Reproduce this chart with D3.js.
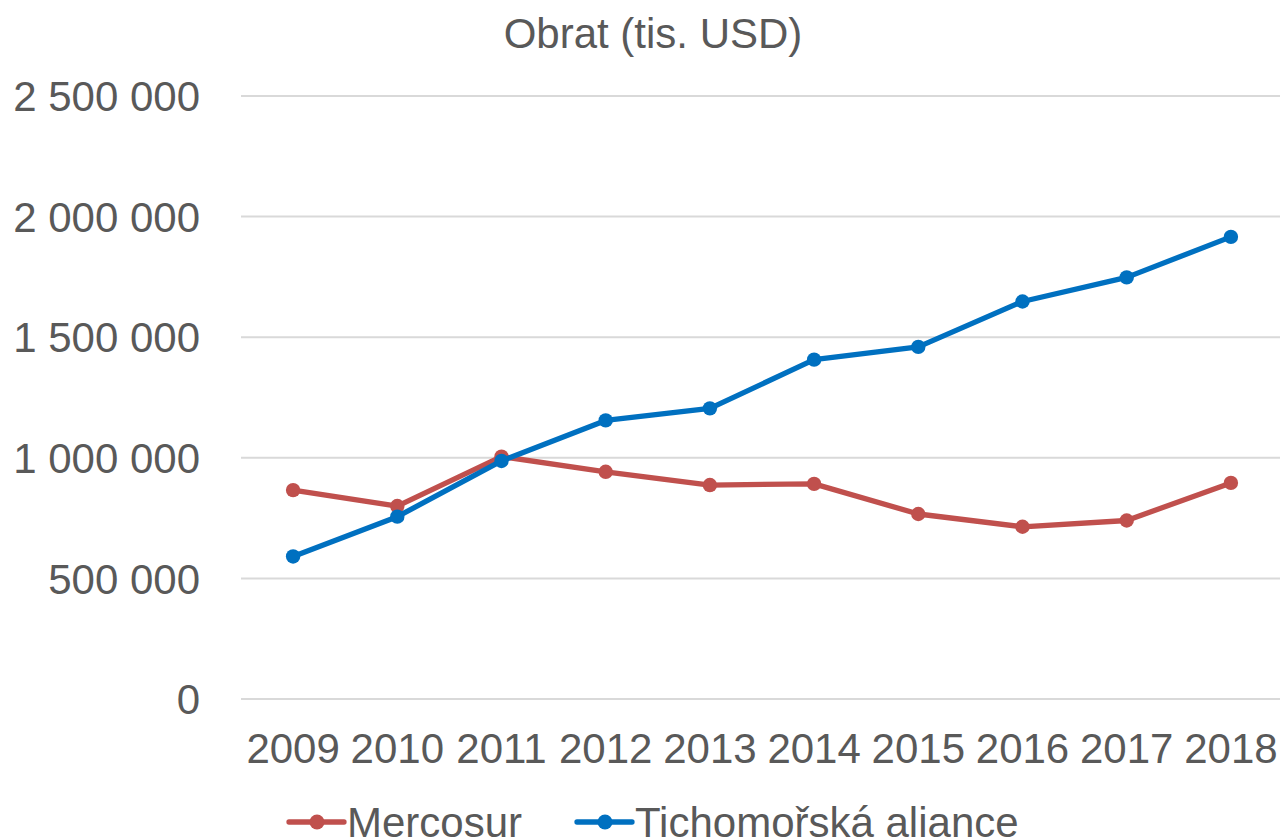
<!DOCTYPE html>
<meta charset="utf-8">
<script src="https://d3js.org/d3.v7.min.js"></script>
<style>
body { margin: 0; background: #fff; }
text { font-family: "Liberation Sans", Arial, sans-serif; fill: #595959; }
</style>
<body>
<script>

// data
var years = ["2009", "2010", "2011", "2012", "2013", "2014", "2015", "2016", "2017", "2018"];
var mercosur = [866000, 800000, 1005000, 942000, 887000, 892000, 767000, 714000, 740000, 896000];
var pacific = [591000, 756000, 987000, 1155000, 1205000, 1407000, 1460000, 1648000, 1748000, 1916000];
var yTicks = [0, 500000, 1000000, 1500000, 2000000, 2500000];
var seriesNames = ["Mercosur", "Tichomořská aliance"];
var seriesColors = ["#C0504D", "#0070C0"];

var W = 1280, H = 838;
var margin = {top: 96, right: -3, bottom: 139, left: 241},
    width = W - margin.left - margin.right,
    height = H - margin.top - margin.bottom;

var svg = d3.select("body").append("svg")
    .attr("width", W)
    .attr("height", H);

var g = svg.append("g")
    .attr("transform", "translate(" + margin.left + "," + margin.top + ")");

var x = d3.scalePoint()
    .domain(years)
    .range([0, width])
    .padding(0.5);

var y = d3.scaleLinear()
    .domain([0, 2500000])
    .range([height, 0]);

var fmt = function(v) { return d3.format(",")(v).replace(/,/g, " "); };

// gridlines
g.selectAll(".grid")
  .data(yTicks)
  .enter().append("line")
    .attr("x1", 0)
    .attr("x2", width)
    .attr("y1", function(d) { return y(d); })
    .attr("y2", function(d) { return y(d); })
    .attr("stroke", "#D9D9D9")
    .attr("stroke-width", 2);

// y labels
g.selectAll(".ylab")
  .data(yTicks)
  .enter().append("text")
    .attr("x", -41)
    .attr("y", function(d) { return y(d); })
    .attr("dy", "0.36em")
    .attr("text-anchor", "end")
    .style("font-size", "42px")
    .text(function(d) { return fmt(d); });

// x labels
g.selectAll(".xlab")
  .data(years)
  .enter().append("text")
    .attr("x", function(d) { return x(d); })
    .attr("y", height + 64)
    .attr("text-anchor", "middle")
    .style("font-size", "42px")
    .text(function(d) { return d; });

// title
svg.append("text")
    .attr("x", 653)
    .attr("y", 48)
    .attr("text-anchor", "middle")
    .style("font-size", "42px")
    .text("Obrat (tis. USD)");

// lines
var line = d3.line()
    .x(function(d, i) { return x(years[i]); })
    .y(function(d) { return y(d); });

[mercosur, pacific].forEach(function(s, k) {
  g.append("path")
    .datum(s)
    .attr("fill", "none")
    .attr("stroke", seriesColors[k])
    .attr("stroke-width", 5.3)
    .attr("stroke-linejoin", "round")
    .attr("d", line);
  g.selectAll(".dot" + k)
    .data(s)
    .enter().append("circle")
      .attr("cx", function(d, i) { return x(years[i]); })
      .attr("cy", function(d) { return y(d); })
      .attr("r", 7.2)
      .attr("fill", seriesColors[k]);
});

// legend
var legendX = [289, 577];
var leg = svg.selectAll(".legend")
  .data(seriesNames)
  .enter().append("g")
    .attr("transform", function(d, i) { return "translate(" + legendX[i] + ",822)"; });
leg.append("line")
    .attr("x1", 0).attr("x2", 55)
    .attr("stroke", function(d, i) { return seriesColors[i]; })
    .attr("stroke-width", 5.3)
    .attr("stroke-linecap", "round");
leg.append("circle")
    .attr("cx", 28).attr("r", 7.5)
    .attr("fill", function(d, i) { return seriesColors[i]; });
leg.append("text")
    .attr("x", 58)
    .attr("dy", "0.36em")
    .style("font-size", "42px")
    .text(function(d) { return d; });

</script>
</body>
